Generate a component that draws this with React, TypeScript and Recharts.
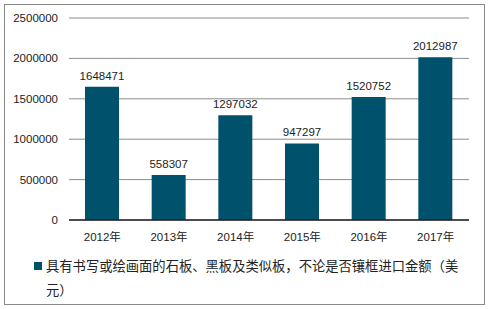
import { Bar, BarChart, CartesianGrid, LabelList, XAxis, YAxis } from "recharts";

const years = ["2012年", "2013年", "2014年", "2015年", "2016年", "2017年"];
const amounts = [1648471, 558307, 1297032, 947297, 1520752, 2012987];
const yTicks = [0, 500000, 1000000, 1500000, 2000000, 2500000];
const seriesName = "具有书写或绘画面的石板、黑板及类似板，不论是否镶框进口金额（美元）";

const FONT = "'Liberation Sans', Arial, 'Noto Sans CJK SC', sans-serif";
const BAR_COLOR = "#00516c";

export default function App() {
  const data = years.map((year, i) => ({ year, amount: amounts[i] }));

  return (
    <div
      style={{
        position: "absolute",
        left: 0,
        top: 0,
        width: 491,
        height: 309,
        background: "#fff",
        fontFamily: FONT
      }}
    >
      <div
        style={{
          position: "absolute",
          left: 4,
          top: 4,
          width: 479,
          height: 299,
          border: "1px solid #8a8a8a"
        }}
      />
      <BarChart
        width={491}
        height={309}
        data={data}
        margin={{ top: 18, right: 22, bottom: 59, left: 0 }}
        style={{ position: "absolute", left: 0, top: 0 }}
      >
        <CartesianGrid vertical={false} stroke="#8c8c8c" />
        <XAxis
          dataKey="year"
          height={30}
          axisLine={{ stroke: "#222", strokeWidth: 1.5 }}
          tickLine={false}
          tickSize={6}
          tickMargin={7}
          tick={{ fill: "#222", fontSize: 11.5, fontFamily: FONT }}
        />
        <YAxis
          width={69}
          domain={[0, 2500000]}
          ticks={yTicks}
          axisLine={false}
          tickLine={false}
          tickSize={6}
          tickMargin={5}
          tick={{ fill: "#222", fontSize: 11.5, fontFamily: FONT }}
        />
        <Bar dataKey="amount" fill={BAR_COLOR} barSize={34} isAnimationActive={false}>
          <LabelList
            dataKey="amount"
            position="top"
            offset={7}
            style={{ fill: "#222", fontSize: 11.5, fontFamily: FONT }}
          />
        </Bar>
      </BarChart>
      <div
        style={{
          position: "absolute",
          left: 34,
          top: 254,
          width: 430,
          display: "flex",
          alignItems: "flex-start"
        }}
      >
        <span
          style={{
            display: "inline-block",
            width: 8,
            height: 8,
            background: BAR_COLOR,
            marginTop: 8,
            marginRight: 4,
            flexShrink: 0
          }}
        />
        <span
          style={{
            width: 418,
            fontSize: 13.3,
            lineHeight: "24px",
            color: "#222",
            fontFamily: "'Noto Sans CJK SC', sans-serif"
          }}
        >
          {seriesName}
        </span>
      </div>
    </div>
  );
}
